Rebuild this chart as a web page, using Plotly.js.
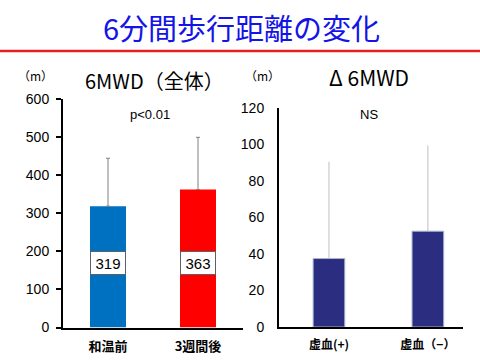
<!DOCTYPE html>
<html><head><meta charset="utf-8">
<script src="https://cdn.plot.ly/plotly-3.0.1.min.js"></script>
<style>html,body{margin:0;padding:0;background:#fff}#chart{width:480px;height:360px}</style>
</head><body><div id="chart"></div>
<script>
const cats1 = ['和温前', '3週間後'];
const vals1 = [319, 363];
const sd1 = [126, 137];
const colors1 = ['#0070c0', '#ff0000'];
const cats2 = ['虚血(+)', '虚血（−）'];
const vals2 = [37.5, 52.5];
const sd2 = [53, 47];
const ticks1 = [0, 100, 200, 300, 400, 500, 600];
const ticks2 = [0, 20, 40, 60, 80, 100, 120];

const jp = '"Noto Sans CJK JP", "Liberation Sans", sans-serif';
const num = '"Liberation Sans", Arial, sans-serif';

const traces = [
  {
    type: 'bar', x: cats1, y: vals1, xaxis: 'x', yaxis: 'y', width: 0.4,
    marker: {color: colors1, line: {width: 0}},
    error_y: {type: 'data', symmetric: false, array: sd1, arrayminus: [0, 0], color: '#808080', thickness: 1, width: 2},
    hoverinfo: 'none'
  },
  {
    type: 'bar', x: cats2, y: vals2, xaxis: 'x2', yaxis: 'y2', width: 0.32,
    marker: {color: '#2b2d80', line: {width: 1, color: '#a8b4cc'}},
    error_y: {type: 'data', symmetric: false, array: sd2, arrayminus: [0, 0], color: '#c0c0c0', thickness: 1, width: 0},
    hoverinfo: 'none'
  }
];

const annotations = [
  {xref: 'paper', yref: 'paper', x: 241 / 480, y: 1 - 27 / 360, text: '6分間歩行距離の変化', showarrow: false,
   font: {family: jp, size: 29, color: '#1414e6'}, xanchor: 'center', yanchor: 'middle'},
  {xref: 'paper', yref: 'paper', x: 35 / 480, y: 1 - 75 / 360, text: '（m）', showarrow: false,
   font: {family: jp, size: 12, color: '#000'}, xanchor: 'center', yanchor: 'middle'},
  {xref: 'paper', yref: 'paper', x: 154 / 480, y: 1 - 80 / 360, text: '6MWD（全体）', showarrow: false,
   font: {family: jp, size: 20, color: '#000'}, xanchor: 'center', yanchor: 'middle'},
  {xref: 'paper', yref: 'paper', x: 150 / 480, y: 1 - 114 / 360, text: 'p<0.01', showarrow: false,
   font: {family: num, size: 13, color: '#000'}, xanchor: 'center', yanchor: 'middle'},
  {xref: 'paper', yref: 'paper', x: 262 / 480, y: 1 - 75 / 360, text: '（m）', showarrow: false,
   font: {family: jp, size: 12, color: '#000'}, xanchor: 'center', yanchor: 'middle'},
  {xref: 'paper', yref: 'paper', x: 369 / 480, y: 1 - 77 / 360, text: 'Δ 6MWD', showarrow: false,
   font: {family: jp, size: 21, color: '#000'}, xanchor: 'center', yanchor: 'middle'},
  {xref: 'paper', yref: 'paper', x: 369 / 480, y: 1 - 114 / 360, text: 'NS', showarrow: false,
   font: {family: num, size: 13, color: '#000'}, xanchor: 'center', yanchor: 'middle'}
];
cats1.forEach((c, i) => {
  annotations.push({xref: 'x', yref: 'y', x: c, y: 170, text: String(vals1[i]), showarrow: false,
    bgcolor: '#fff', bordercolor: '#606060', borderwidth: 1, width: 32, height: 20,
    font: {family: num, size: 15, color: '#000'}});
});

const layout = {
  width: 480, height: 360, margin: {l: 0, r: 0, t: 0, b: 0},
  paper_bgcolor: '#fff', plot_bgcolor: 'rgba(0,0,0,0)', showlegend: false,
  xaxis: {domain: [63 / 480, 243 / 480], range: [-0.5, 1.5], showline: true, linecolor: '#000', linewidth: 2,
    ticks: '', tickvals: cats1, ticktext: cats1.map(c => '<b>' + c + '</b>'),
    tickfont: {family: jp, size: 13, color: '#000'}, ticklabelstandoff: 6, fixedrange: true},
  yaxis: {domain: [1 - 327.5 / 360, 1 - 99.3 / 360], range: [0, 600], showline: true, linecolor: '#000', linewidth: 2,
    showgrid: false, zeroline: false, ticks: 'outside', ticklen: 5, tickcolor: '#000', tickwidth: 2,
    tickvals: ticks1, tickfont: {family: num, size: 14, color: '#000'}, ticklabelstandoff: 4},
  xaxis2: {domain: [279 / 480, 463 / 480], range: [-0.505, 1.355], anchor: 'y2', showline: true, linecolor: '#000', linewidth: 2,
    ticks: '', tickvals: cats2, ticktext: cats2.map(c => '<b>' + c + '</b>'),
    tickfont: {family: jp, size: 12, color: '#000'}, ticklabelstandoff: 6},
  yaxis2: {domain: [1 - 327 / 360, 1 - 108 / 360], range: [0, 120], anchor: 'x2', showline: true, linecolor: '#000', linewidth: 2,
    showgrid: false, zeroline: false, ticks: '', tickvals: ticks2,
    tickfont: {family: num, size: 14, color: '#000'}, ticklabelstandoff: 10},
  shapes: [
    {type: 'line', xref: 'paper', yref: 'paper', x0: 0, x1: 1, y0: 1 - 51 / 360, y1: 1 - 51 / 360,
     line: {color: '#e82020', width: 2.5}}
  ],
  annotations: annotations
};

Plotly.newPlot('chart', traces, layout, {staticPlot: true, displayModeBar: false});
</script>
</body></html>
